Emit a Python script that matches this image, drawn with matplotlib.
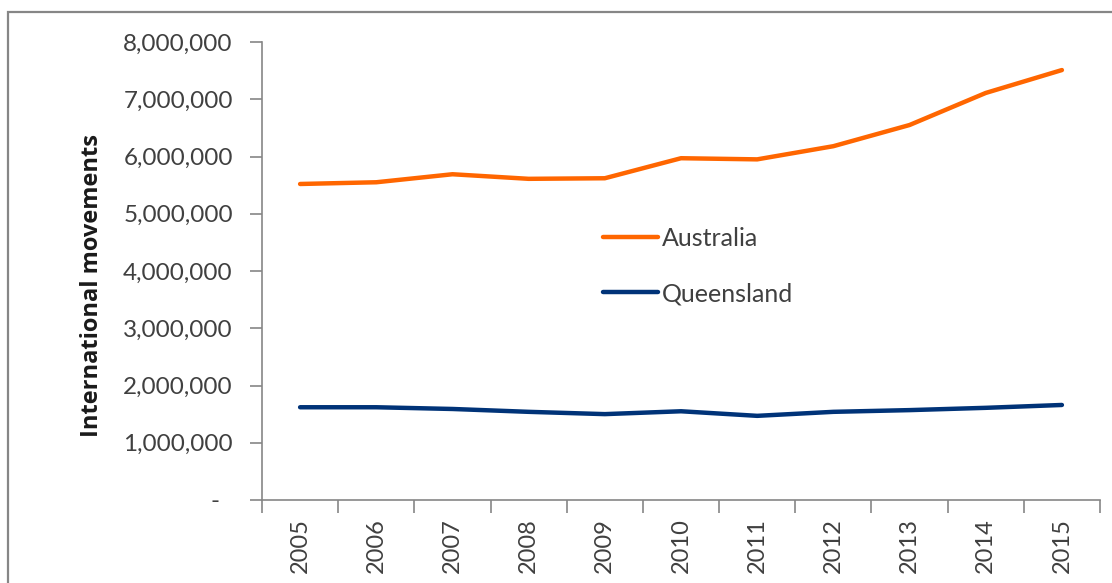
import numpy as np
import matplotlib.pyplot as plt
from matplotlib.patches import Rectangle
from matplotlib.ticker import FixedLocator, FuncFormatter

years = ["2005", "2006", "2007", "2008", "2009", "2010", "2011", "2012", "2013", "2014", "2015"]
australia = [5520000, 5550000, 5690000, 5610000, 5620000, 5970000, 5950000, 6180000, 6550000, 7110000, 7510000]
queensland = [1620000, 1620000, 1590000, 1540000, 1500000, 1550000, 1470000, 1540000, 1570000, 1610000, 1660000]

ORANGE, NAVY, AXIS, TXT = "#ff6600", "#003378", "#868686", "#404040"
plt.rcParams.update({"font.family": ["Lato", "DejaVu Sans"], "font.size": 16})

fig = plt.figure(figsize=(11.12, 5.83), dpi=100)
fig.patches.append(Rectangle((8 / 1112, -0.1), 1.2, 1.1 - 12 / 583, transform=fig.transFigure,
                             fill=False, edgecolor=AXIS, lw=1.6))
ax = fig.add_axes([262 / 1112, 83 / 583, 838 / 1112, 458 / 583])

x = np.arange(len(years))
ax.plot(x, australia, color=ORANGE, lw=3.2, solid_capstyle="round", label="Australia")
ax.plot(x, queensland, color=NAVY, lw=3.2, solid_capstyle="round", label="Queensland")

ax.set_xlim(-0.5, len(years) - 0.5)
ax.set_ylim(0, 8000000)
ax.yaxis.set_major_locator(FixedLocator(np.arange(0, 8000001, 1000000)))
ax.yaxis.set_major_formatter(FuncFormatter(lambda v, p: f"{v:,.0f}" if v else "-  "))
ax.set_xticks(x)
ax.set_xticklabels(years, rotation=90)
ax.set_xticks(np.arange(-0.5, len(years)), minor=True)
ax.tick_params(axis="x", which="major", length=0, pad=13, labelsize=17, labelcolor=TXT)
ax.tick_params(axis="x", which="minor", length=9, color=AXIS, width=1.2)
ax.tick_params(axis="y", length=9, color=AXIS, width=1.2, pad=12, labelsize=17.5, labelcolor=TXT)
for s in ["top", "right"]:
    ax.spines[s].set_visible(False)
for s in ["left", "bottom"]:
    ax.spines[s].set_color(AXIS)
    ax.spines[s].set_linewidth(1.2)

ax.set_ylabel("International movements", fontweight="bold", fontsize=17, color="#1a1a1a",
              family=["Open Sans", "DejaVu Sans"])
ax.yaxis.set_label_coords(-0.188, 0.469)

ax.legend(loc="center left", bbox_to_anchor=(0.407, 0.511), frameon=False, fontsize=18,
          borderpad=0, borderaxespad=0, handlelength=2.2, handletextpad=0.15, labelspacing=1.3,
          labelcolor=TXT)

fig.savefig("out.png", dpi=100, facecolor="white")
